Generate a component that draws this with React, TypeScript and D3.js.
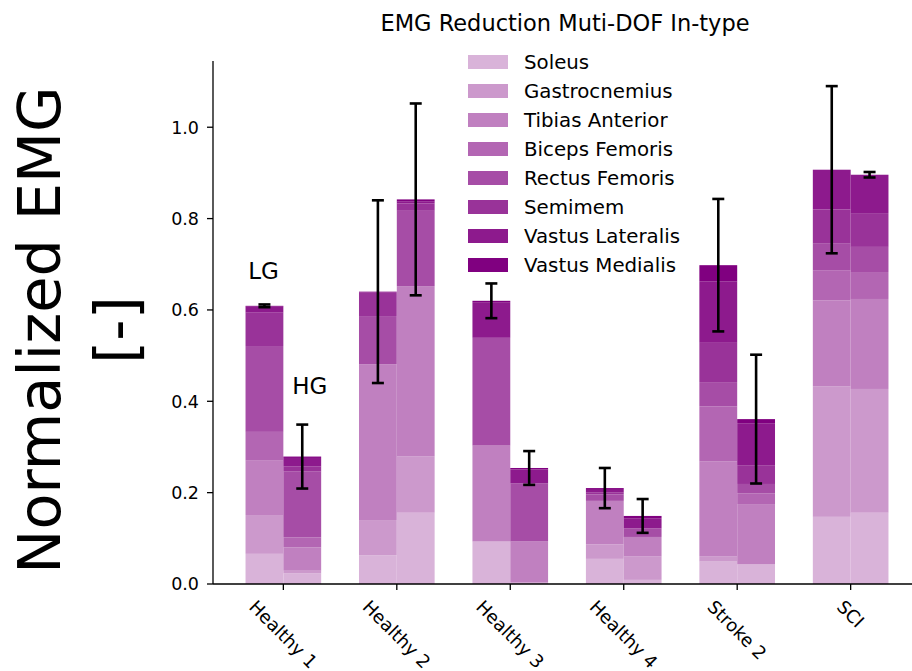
import React from "react";
import * as d3 from "d3";

const categories = ["Healthy 1", "Healthy 2", "Healthy 3", "Healthy 4", "Stroke 2", "SCI"];
const muscles = [
  "Soleus",
  "Gastrocnemius",
  "Tibias Anterior",
  "Biceps Femoris",
  "Rectus Femoris",
  "Semimem",
  "Vastus Lateralis",
  "Vastus Medialis",
];
const muscleAlpha = [0.3, 0.4, 0.5, 0.6, 0.7, 0.8, 0.9, 1.0];

// LG (left bar) segment values per muscle, per category
const soleusLG = [0.066, 0.063, 0.093, 0.055, 0.049, 0.147];
const gastroLG = [0.085, 0.077, 0.0, 0.032, 0.012, 0.286];
const tibiasLG = [0.119, 0.341, 0.21, 0.095, 0.207, 0.188];
const bicepsLG = [0.063, 0.0, 0.0, 0.0, 0.121, 0.066];
const rectusLG = [0.188, 0.104, 0.236, 0.014, 0.053, 0.058];
const semimemLG = [0.073, 0.053, 0.0, 0.004, 0.086, 0.075];
const vastLatLG = [0.013, 0.0, 0.078, 0.006, 0.134, 0.087];
const vastMedLG = [0.002, 0.002, 0.003, 0.004, 0.036, 0.0];

// HG (right bar) segment values per muscle, per category
const soleusHG = [0.023, 0.156, 0.003, 0.009, 0.043, 0.156];
const gastroHG = [0.006, 0.123, 0.0, 0.051, 0.0, 0.271];
const tibiasHG = [0.051, 0.373, 0.09, 0.043, 0.132, 0.197];
const bicepsHG = [0.022, 0.0, 0.0, 0.0, 0.023, 0.059];
const rectusHG = [0.144, 0.165, 0.127, 0.019, 0.021, 0.055];
const semimemHG = [0.011, 0.016, 0.0, 0.0, 0.04, 0.074];
const vastLatHG = [0.019, 0.004, 0.031, 0.022, 0.093, 0.084];
const vastMedHG = [0.003, 0.005, 0.003, 0.005, 0.009, 0.0];

const errLG = [0.003, 0.2, 0.038, 0.044, 0.145, 0.183];
const errHG = [0.07, 0.21, 0.037, 0.037, 0.141, 0.006];

const yTicks = [0.0, 0.2, 0.4, 0.6, 0.8, 1.0];

const lgSeries = [soleusLG, gastroLG, tibiasLG, bicepsLG, rectusLG, semimemLG, vastLatLG, vastMedLG];
const hgSeries = [soleusHG, gastroHG, tibiasHG, bicepsHG, rectusHG, semimemHG, vastLatHG, vastMedHG];

const FONT = "DejaVu Sans, Verdana, sans-serif";
const W = 912;
const H = 671;

function buildRows(series: number[][]) {
  return categories.map((c, i) => {
    const row: any = { category: c, idx: i };
    muscles.forEach((m, k) => (row[m] = series[k][i]));
    return row;
  });
}

let measureCtx: CanvasRenderingContext2D | null = null;
function textWidth(t: string, size: number) {
  if (!measureCtx) {
    const c = document.createElement("canvas");
    measureCtx = c.getContext("2d");
  }
  if (!measureCtx) return t.length * size * 0.6;
  measureCtx.font = `${size}px "DejaVu Sans"`;
  return measureCtx.measureText(t).width;
}

export default function App() {
  const x = d3.scaleLinear().domain([-0.62, 5.62]).range([213, 921]);
  const y = d3.scaleLinear().domain([0, 1.145]).range([584, 61]);
  const bw = x(1 / 3) - x(0);
  const color = (k: number) => d3.interpolateRgb("#ffffff", "#800080")(muscleAlpha[k]);

  const stack = d3.stack<any>().keys(muscles);
  const lgStack = stack(buildRows(lgSeries));
  const hgStack = stack(buildRows(hgSeries));

  const totals = (series: number[][]) => categories.map((_, i) => d3.sum(series, (s) => s[i]));
  const lgTot = totals(lgSeries);
  const hgTot = totals(hgSeries);

  const xFont = 18;
  const capHalf = 6;

  const errBar = (cx: number, v: number, e: number, key: string) => (
    <g key={key} stroke="#000" strokeWidth={2.6}>
      <line x1={cx} x2={cx} y1={y(v - e)} y2={y(v + e)} />
      <line x1={cx - capHalf} x2={cx + capHalf} y1={y(v - e)} y2={y(v - e)} />
      <line x1={cx - capHalf} x2={cx + capHalf} y1={y(v + e)} y2={y(v + e)} />
    </g>
  );

  return (
    <svg
      width={W}
      height={H}
      style={{ position: "absolute", left: 0, top: 0, background: "#fff" }}
      fontFamily={FONT}
    >
      <rect x={0} y={0} width={W} height={H} fill="#fff" />
      {/* bars */}
      {lgStack.map((layer, k) => (
        <g key={"lg" + k} fill={color(k)}>
          {layer.map((d: any, i: number) => (
            <rect
              key={i}
              x={x(i) - bw}
              width={bw}
              y={y(d[1])}
              height={Math.max(0, y(d[0]) - y(d[1]))}
            />
          ))}
        </g>
      ))}
      {hgStack.map((layer, k) => (
        <g key={"hg" + k} fill={color(k)}>
          {layer.map((d: any, i: number) => (
            <rect
              key={i}
              x={x(i)}
              width={bw}
              y={y(d[1])}
              height={Math.max(0, y(d[0]) - y(d[1]))}
            />
          ))}
        </g>
      ))}
      {/* error bars */}
      {categories.map((_, i) => errBar(x(i) - bw / 2, lgTot[i], errLG[i], "el" + i))}
      {categories.map((_, i) => errBar(x(i) + bw / 2, hgTot[i], errHG[i], "eh" + i))}

      {/* axes */}
      <line x1={213} x2={921} y1={y(0)} y2={y(0)} stroke="#000" strokeWidth={1.3} />
      <line x1={213} x2={213} y1={y(0)} y2={y(1.145)} stroke="#000" strokeWidth={1.3} />
      {yTicks.map((t) => (
        <g key={t}>
          <line x1={207} x2={213} y1={y(t)} y2={y(t)} stroke="#000" strokeWidth={1.3} />
          <text x={199} y={y(t)} dy="0.36em" textAnchor="end" fontSize={17.5} fill="#000">
            {t.toFixed(1)}
          </text>
        </g>
      ))}
      {categories.map((c, i) => {
        const w = textWidth(c, xFont);
        const h = xFont * 1.17;
        const Hb = (w + h) / Math.SQRT2;
        const cy = 596 + Hb / 2;
        return (
          <g key={c}>
            <line x1={x(i)} x2={x(i)} y1={y(0)} y2={y(0) + 6} stroke="#000" strokeWidth={1.3} />
            <text
              transform={`translate(${x(i)},${cy}) rotate(45)`}
              textAnchor="middle"
              dy="0.36em"
              fontSize={xFont}
              fill="#000"
            >
              {c}
            </text>
          </g>
        );
      })}

      {/* y label */}
      <text transform={`translate(60,330) rotate(-90)`} textAnchor="middle" fontSize={59} fill="#000">
        Normalized EMG
      </text>
      <text transform={`translate(137,330) rotate(-90)`} textAnchor="middle" fontSize={59} fill="#000">
        [-]
      </text>

      {/* title */}
      <text x={565} y={31} textAnchor="middle" fontSize={22.5} fill="#000">
        EMG Reduction Muti-DOF In-type
      </text>

      {/* annotations */}
      <text x={x(-0.31)} y={y(0.667)} fontSize={23} fill="#000">
        LG
      </text>
      <text x={x(0.078)} y={y(0.416)} fontSize={23} fill="#000">
        HG
      </text>

      {/* legend */}
      {muscles.map((m, k) => (
        <g key={m}>
          <rect x={468} y={62 + 29 * k - 7} width={40} height={14} fill={color(k)} />
          <text x={524} y={62 + 29 * k} dy="0.36em" fontSize={19.8} fill="#000">
            {m}
          </text>
        </g>
      ))}
    </svg>
  );
}
